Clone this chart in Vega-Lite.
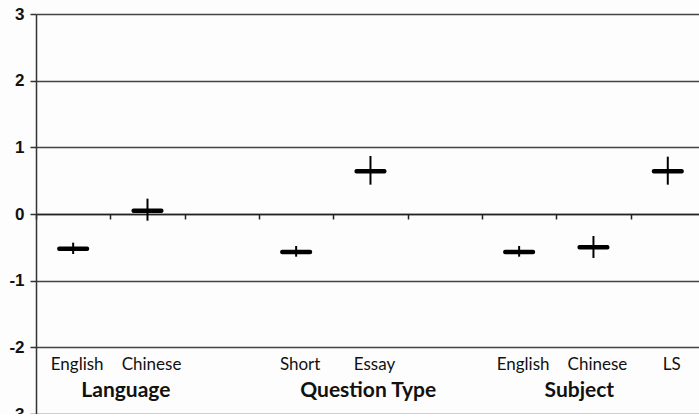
{
  "$schema": "https://vega.github.io/schema/vega-lite/v6.json",
  "width": 663,
  "height": 400,
  "autosize": {"type": "none"},
  "padding": {"left": 36, "top": 14, "right": 0, "bottom": 0},
  "background": "#fdfdfd",
  "config": {"view": {"stroke": null}},
  "datasets": {
    "est": [
      {"group": "Language", "category": "English", "slot": 0.5, "mean": -0.52, "lo": -0.6, "hi": -0.43},
      {"group": "Language", "category": "Chinese", "slot": 1.5, "mean": 0.05, "lo": -0.1, "hi": 0.23},
      {"group": "Question Type", "category": "Short", "slot": 3.5, "mean": -0.57, "lo": -0.64, "hi": -0.48},
      {"group": "Question Type", "category": "Essay", "slot": 4.5, "mean": 0.64, "lo": 0.44, "hi": 0.87},
      {"group": "Subject", "category": "English", "slot": 6.5, "mean": -0.57, "lo": -0.64, "hi": -0.48},
      {"group": "Subject", "category": "Chinese", "slot": 7.5, "mean": -0.5, "lo": -0.66, "hi": -0.33},
      {"group": "Subject", "category": "LS", "slot": 8.5, "mean": 0.64, "lo": 0.44, "hi": 0.86}
    ],
    "groups": [
      {"group": "Language", "center": 1.21},
      {"group": "Question Type", "center": 4.47},
      {"group": "Subject", "center": 7.31}
    ]
  },
  "data": {"name": "est"},
  "layer": [
    {
      "mark": {"type": "rule", "color": "#000", "strokeWidth": 2},
      "encoding": {
        "x": {
          "field": "slot", "type": "quantitative",
          "scale": {"domain": [0, 8.92], "nice": false, "zero": false},
          "axis": {
            "orient": "bottom", "offset": -200, "values": [0, 1, 2, 3, 4, 5, 6, 7, 8],
            "labels": false, "title": null, "grid": false,
            "domainColor": "#222", "domainWidth": 1.5,
            "tickColor": "#222", "tickWidth": 1.5, "tickSize": 5
          }
        },
        "y": {
          "field": "lo", "type": "quantitative",
          "scale": {"domain": [-3, 3], "nice": false},
          "axis": {
            "values": [-3, -2, -1, 0, 1, 2, 3], "labelExpr": "'' + datum.value", "title": null,
            "grid": true, "gridColor": "#444", "gridWidth": 1.5,
            "domainColor": "#333", "domainWidth": 1.5,
            "tickColor": "#333", "tickWidth": 1.5, "tickSize": 6,
            "labelFont": "Liberation Sans", "labelFontSize": 17, "labelFontWeight": "bold",
            "labelColor": "#111", "labelPadding": 6
          }
        },
        "y2": {"field": "hi"}
      }
    },
    {
      "mark": {"type": "tick", "orient": "horizontal", "color": "#000", "size": 32, "thickness": 4.5, "cornerRadius": 2, "opacity": 1},
      "encoding": {
        "x": {"field": "slot", "type": "quantitative"},
        "y": {"field": "mean", "type": "quantitative"}
      }
    },
    {
      "mark": {"type": "text", "font": "Lato", "fontSize": 17, "color": "#111", "baseline": "middle", "align": "center", "dx": 4},
      "encoding": {
        "x": {"field": "slot", "type": "quantitative"},
        "y": {"datum": -2.27},
        "text": {"field": "category"}
      }
    },
    {
      "data": {"name": "groups"},
      "mark": {"type": "text", "font": "Lato", "fontSize": 21, "fontWeight": "bold", "color": "#111", "baseline": "middle", "align": "center"},
      "encoding": {
        "x": {"field": "center", "type": "quantitative"},
        "y": {"datum": -2.65},
        "text": {"field": "group"}
      }
    }
  ]
}
